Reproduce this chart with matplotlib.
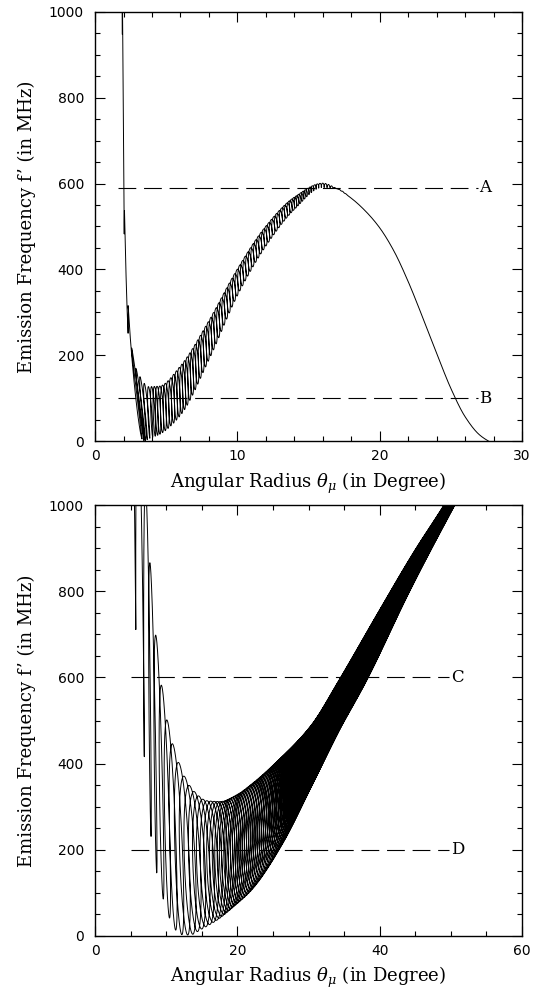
import numpy as np
import matplotlib
matplotlib.use("Agg")
import matplotlib.pyplot as plt
from matplotlib.ticker import MultipleLocator

plt.rcParams['mathtext.fontset'] = 'dejavuserif'

# ---- top panel: loop centres (per loop index k) and envelopes
top_k = [0, 0.5, 1, 1.5, 2, 2.5, 3, 3.5, 4, 5, 6, 7, 8, 12, 20, 30, 40, 50, 60, 75, 120]
top_center = [1.88, 1.92, 1.93, 2.05, 2.07, 2.32, 2.35, 2.85, 2.98, 3.18, 3.38,
              3.6, 3.85, 4.6, 6.15, 8.0, 9.85, 11.7, 13.5, 16.0, 28.0]
top_tilt_k = [0, 3, 3.5, 4, 5, 6, 7, 8, 12, 75]
top_tilt = [0, 0, 0.45, 0.4, 0.3, 0.22, 0.14, 0.1, 0.05, 0]
top_width_k = [0, 3, 4, 8, 12, 60, 75, 80]
top_width = [0.005, 0.005, 0.05, 0.08, 0.15, 0.15, 0.04, 0]
# upper envelope (theta, f) and lower envelope (theta, f)
top_hi_theta = [1.88, 1.93, 2.07, 2.35, 2.58, 2.88, 3.16, 3.47, 3.75, 4.5, 6, 8, 10,
                12, 14, 16, 17, 18, 19, 20, 21, 22, 23, 24, 25, 26, 27, 27.65, 28]
top_hi = [1250, 1005, 534, 303, 216, 169, 150, 134, 127, 128, 175, 280, 400,
          500, 568, 601, 588, 566, 536, 497, 443, 372, 290, 205, 123, 57, 15, 0, -6]
top_lo_theta = [1.92, 2.05, 2.32, 3.3, 3.4, 3.5, 3.6, 3.75, 3.95, 4.5, 6, 8, 10,
                12, 14, 16, 17, 18, 19, 20, 21, 22, 23, 24, 25, 26, 27, 27.65, 28]
top_lo = [950, 485, 252, 5, 2, 0, 2, 5, 8, 15, 60, 190, 340,
          455, 540, 591, 588, 566, 536, 497, 443, 372, 290, 205, 123, 57, 15, 0, -6]

# ---- bottom panel
bot_k = [0, 0.5, 1, 1.5, 2, 3, 4, 5, 6, 7, 8, 9, 12, 16, 24, 34, 46, 70, 110, 200, 270]
bot_center = [5.0, 5.6, 6.2, 6.75, 7.3, 7.98, 8.85, 9.69, 10.51, 11.33, 12.17, 12.95,
              14.9, 17.0, 19.7, 22.6, 25.6, 29.5, 34.5, 44.5, 52.2]
bot_tilt_k = [0, 3, 5, 7, 9, 20, 40, 270]
bot_tilt = [0.1, 0.25, 0.35, 0.45, 0.45, 0.15, 0, 0]
bot_width_k = [0, 3, 6, 9, 16, 40, 110, 200, 270]
bot_width = [0.15, 0.25, 0.55, 0.9, 1.2, 1.3, 0.6, 0.4, 0.3]
bot_hi_theta = [5.0, 6.4, 7.3, 7.73, 8.57, 9.37, 10.16, 11.0, 11.85, 12.65, 13.8, 15.7,
                17.6, 19.9, 22.2, 26, 30.7, 34.6, 40, 45, 49.1, 52]
bot_hi = [1450, 1150, 1000, 865, 694, 578, 497, 439, 397, 366, 337, 314,
          312, 327, 354, 410, 493, 600, 755, 895, 1000, 1080]
bot_lo_theta = [5.0, 5.9, 6.9, 7.8, 8.7, 9.65, 10.6, 11.55, 12.5, 13.5, 14.75, 17.1,
                19.4, 21.8, 26, 30, 34, 38, 44, 50.5, 53]
bot_lo = [900, 671, 424, 242, 145, 83, 37, 10, 2, 3, 14, 37,
          68, 105, 210, 340, 470, 590, 795, 1000, 1075]

# reference levels
top_levels = [590, 100]
top_names = ['A', 'B']
bot_levels = [600, 200]
bot_names = ['C', 'D']


def pchip(x, xp, fp):
    """Monotone cubic interpolation through the read-off anchor points."""
    xp = np.asarray(xp, float)
    fp = np.asarray(fp, float)
    x = np.clip(x, xp[0], xp[-1])
    h = np.diff(xp)
    d = np.diff(fp) / h
    m = np.zeros_like(fp)
    m[0], m[-1] = d[0], d[-1]
    for i in range(1, len(xp) - 1):
        if d[i - 1] * d[i] > 0:
            w1 = 2 * h[i] + h[i - 1]
            w2 = h[i] + 2 * h[i - 1]
            m[i] = (w1 + w2) / (w1 / d[i - 1] + w2 / d[i])
    i = np.clip(np.searchsorted(xp, x) - 1, 0, len(xp) - 2)
    t = (x - xp[i]) / h[i]
    return ((2 * t**3 - 3 * t**2 + 1) * fp[i] + (t**3 - 2 * t**2 + t) * h[i] * m[i]
            + (-2 * t**3 + 3 * t**2) * fp[i + 1] + (t**3 - t**2) * h[i] * m[i + 1])


def loop_curve(k_anchor, centers, tilt_k, tilt, width_k, width,
               hi_theta, hi, lo_theta, lo):
    """Builds the looping curve from loop centres and envelopes."""
    k = np.linspace(k_anchor[0], k_anchor[-1], int(k_anchor[-1] * 300))
    thc = pchip(k, k_anchor, centers)
    t = np.interp(k, tilt_k, tilt)
    w = np.interp(k, width_k, width)
    f_top = pchip(thc - t, hi_theta, hi)
    f_bot = pchip(thc + t, lo_theta, lo)
    phi = 2 * np.pi * k
    f = (f_top + f_bot) / 2 + (f_top - f_bot) / 2 * np.cos(phi)
    th = thc - t * np.cos(phi) + w * np.sin(phi)
    return th, f


def style_axes(ax, xmax, xmaj, xmin):
    ax.set_xlim(0, xmax)
    ax.set_ylim(0, 1000)
    ax.xaxis.set_major_locator(MultipleLocator(xmaj))
    ax.xaxis.set_minor_locator(MultipleLocator(xmin))
    ax.yaxis.set_major_locator(MultipleLocator(200))
    ax.yaxis.set_minor_locator(MultipleLocator(50))
    ax.tick_params(which='both', direction='in', top=True, right=True,
                   width=0.8, labelsize=10)
    ax.tick_params(which='major', length=7.2)
    ax.tick_params(which='minor', length=3.6)
    ax.tick_params(axis='x', pad=6)
    ax.tick_params(axis='y', pad=8)
    for s in ax.spines.values():
        s.set_linewidth(1.0)
    ax.set_xlabel(r'Angular Radius $\theta_\mu$ (in Degree)',
                  family='DejaVu Serif', fontsize=13, labelpad=5)
    ax.set_ylabel('Emission Frequency f\u2019 (in MHz)',
                  family='DejaVu Serif', fontsize=13, labelpad=9)


fig = plt.figure(figsize=(5.37, 9.89), dpi=100)
ax1 = fig.add_axes([0.177, 0.554, 0.795, 0.434])
ax2 = fig.add_axes([0.177, 0.0536, 0.795, 0.4357])

th, f = loop_curve(top_k, top_center, top_tilt_k, top_tilt, top_width_k, top_width,
                   top_hi_theta, top_hi, top_lo_theta, top_lo)
ax1.plot(th, f, color='black', lw=0.7)
for lev, name in zip(top_levels, top_names):
    ax1.plot([1.6, 26.9], [lev, lev], color='black', lw=0.8,
             linestyle=(0, (16, 7)))
    ax1.text(27.0, lev, name, family='DejaVu Serif', fontsize=12,
             ha='left', va='center')
style_axes(ax1, 30, 10, 2)

th, f = loop_curve(bot_k, bot_center, bot_tilt_k, bot_tilt, bot_width_k, bot_width,
                   bot_hi_theta, bot_hi, bot_lo_theta, bot_lo)
ax2.plot(th, f, color='black', lw=0.7)
for lev, name in zip(bot_levels, bot_names):
    ax2.plot([5.1, 49.7], [lev, lev], color='black', lw=0.8,
             linestyle=(0, (16, 7)))
    ax2.text(50.0, lev, name, family='DejaVu Serif', fontsize=12,
             ha='left', va='center')
style_axes(ax2, 60, 20, 5)

fig.savefig('out.png', dpi=100)
